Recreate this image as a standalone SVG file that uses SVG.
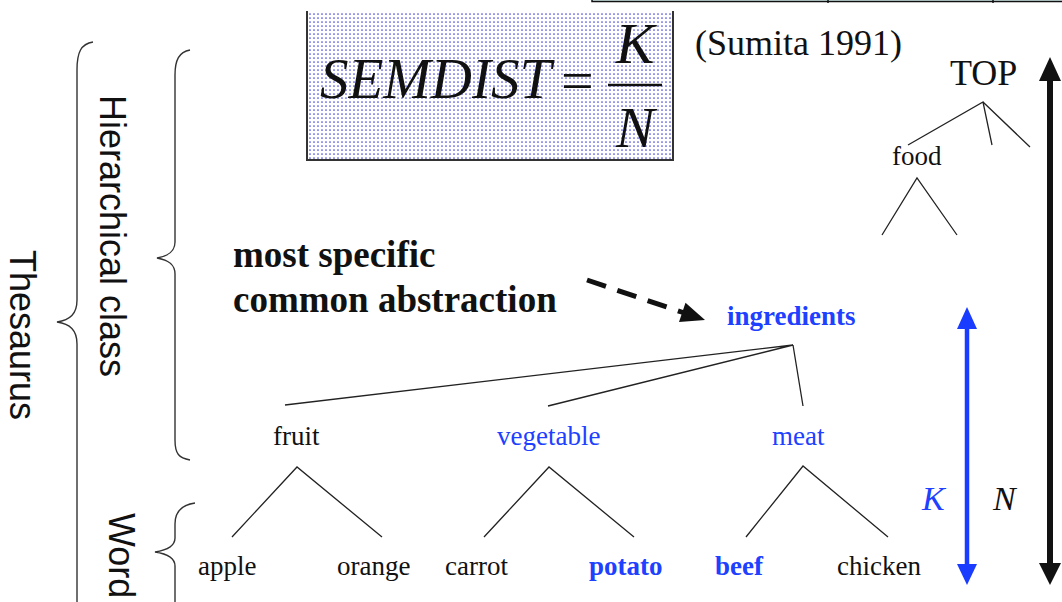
<svg xmlns="http://www.w3.org/2000/svg" width="1062" height="602" viewBox="0 0 1062 602">
  <defs>
    <pattern id="dots" width="4" height="4" patternUnits="userSpaceOnUse">
      <rect width="4" height="4" fill="#ffffff"/>
      <circle cx="2" cy="2" r="0.85" fill="#4646dc"/>
    </pattern>
    <style>
      .serif { font-family: "Liberation Serif", "Times New Roman", serif; }
      .sans { font-family: "Liberation Sans", Arial, sans-serif; }
      .word { font-size: 27px; fill: #111; }
      .blue { fill: #2040ff; }
      .bold { font-weight: bold; }
      .edge { stroke: #222; stroke-width: 1.3; fill: none; }
      .brace { stroke: #333; stroke-width: 1.4; fill: none; }
      .side { font-size: 36px; fill: #111; }
    </style>
  </defs>

  <rect width="1062" height="602" fill="#ffffff"/>

  <!-- partial table edge at top right -->
  <g id="top-table">
    <rect x="592" y="-6" width="480" height="7.5" fill="#d6f1f1" stroke="#111" stroke-width="1.5"/>
    <line x1="828" y1="-6" x2="828" y2="3" stroke="#111" stroke-width="1.5"/>
    <line x1="993" y1="-6" x2="993" y2="3" stroke="#111" stroke-width="1.5"/>
  </g>

  <!-- formula box -->
  <g id="formula">
    <rect x="307" y="11" width="366" height="149" fill="url(#dots)"/>
    <polyline points="307,11 307,160 673,160 673,11" fill="none" stroke="#333" stroke-width="2"/>
    <text class="serif" x="320" y="98" font-size="57" font-style="italic" fill="#111">SEMDIST</text>
    <text class="serif" x="561" y="100" font-size="58" fill="#111">=</text>
    <line x1="608" y1="85" x2="662" y2="85" stroke="#111" stroke-width="2.5"/>
    <text class="serif" x="635" y="63" font-size="58" font-style="italic" fill="#111" text-anchor="middle">K</text>
    <text class="serif" x="635" y="147" font-size="58" font-style="italic" fill="#111" text-anchor="middle">N</text>
  </g>

  <text id="citation" class="serif" x="695" y="55" font-size="36" fill="#111">(Sumita 1991)</text>

  <!-- side braces and labels -->
  <g id="thesaurus">
    <path class="brace" d="M93,42 C81,44 77,52 77,70 L77,300 C77,314 70,320 57,322 C70,324 77,330 77,344 L77,610"/>
    <text class="sans side" transform="translate(10,335) rotate(90)" text-anchor="middle" font-size="38">Thesaurus</text>
  </g>
  <g id="hierarchical-class">
    <path class="brace" d="M190,50 C179,52 175,60 175,75 L175,242 C175,252 168,256 157,258 C168,260 175,264 175,274 L175,440 C175,454 179,458 190,460"/>
    <text class="sans side" transform="translate(100,236) rotate(90)" text-anchor="middle" font-size="38.5">Hierarchical class</text>
  </g>
  <g id="word">
    <path class="brace" d="M195,503 C181,505 175,512 175,524 L175,538 C175,546 168,550 155,552 C168,554 175,558 175,566 L175,610"/>
    <text class="sans side" transform="translate(109,513) rotate(90)">Word</text>
  </g>

  <!-- annotation -->
  <g id="annotation">
    <text class="serif bold" x="233" y="267" font-size="37" fill="#111">most specific</text>
    <text class="serif bold" x="233" y="312" font-size="37" fill="#111">common abstraction</text>
  </g>

  <!-- tree nodes -->
  <g id="node-top"><text class="serif" x="950" y="85" font-size="36" fill="#111">TOP</text></g>
  <g id="node-food"><text class="serif word" x="892" y="165">food</text></g>
  <g id="node-ingredients"><text class="serif word bold blue" x="727" y="325">ingredients</text></g>
  <g id="node-fruit"><text class="serif word" x="273" y="445">fruit</text></g>
  <g id="node-vegetable"><text class="serif word blue" x="497" y="445">vegetable</text></g>
  <g id="node-meat"><text class="serif word blue" x="772" y="445">meat</text></g>
  <g id="node-apple"><text class="serif word" x="198" y="575">apple</text></g>
  <g id="node-orange"><text class="serif word" x="337" y="575">orange</text></g>
  <g id="node-carrot"><text class="serif word" x="445" y="575">carrot</text></g>
  <g id="node-potato"><text class="serif word bold blue" x="589" y="575">potato</text></g>
  <g id="node-beef"><text class="serif word bold blue" x="715" y="575">beef</text></g>
  <g id="node-chicken"><text class="serif word" x="837" y="575">chicken</text></g>

  <!-- connectors -->
  <g id="connectors">
    <path class="edge" d="M908,145 L983,102 L992,145 M983,102 L1030,147"/>
    <path class="edge" d="M882,235 L917,178 L957,235"/>
    <path class="edge" d="M285,405 L793,345 L548,406 M793,345 L803,406"/>
    <path class="edge" d="M232,537 L297,467 L382,537"/>
    <path class="edge" d="M484,537 L549,467 L634,537"/>
    <path class="edge" d="M746,537 L803,466 L888,537"/>

    <line x1="587" y1="280" x2="683" y2="312.5" stroke="#111" stroke-width="5" stroke-dasharray="20 12"/>
    <polygon points="705,320 679,322 685.5,302.8" fill="#111"/>

    <line x1="967" y1="325" x2="967" y2="568" stroke="#1a3cff" stroke-width="4.5"/>
    <polygon points="967,307 957,329 977,329" fill="#1a3cff"/>
    <polygon points="967,585 957,564 977,564" fill="#1a3cff"/>

    <line x1="1050" y1="78" x2="1050" y2="566" stroke="#111" stroke-width="6"/>
    <polygon points="1050,57 1039,81 1061,81" fill="#111"/>
    <polygon points="1050,585 1039,563 1061,563" fill="#111"/>
  </g>

  <!-- distance labels -->
  <text id="label-k" class="serif" x="922" y="510" font-size="34" font-style="italic" fill="#2040ff">K</text>
  <text id="label-n" class="serif" x="993" y="510" font-size="34" font-style="italic" fill="#111">N</text>
</svg>
